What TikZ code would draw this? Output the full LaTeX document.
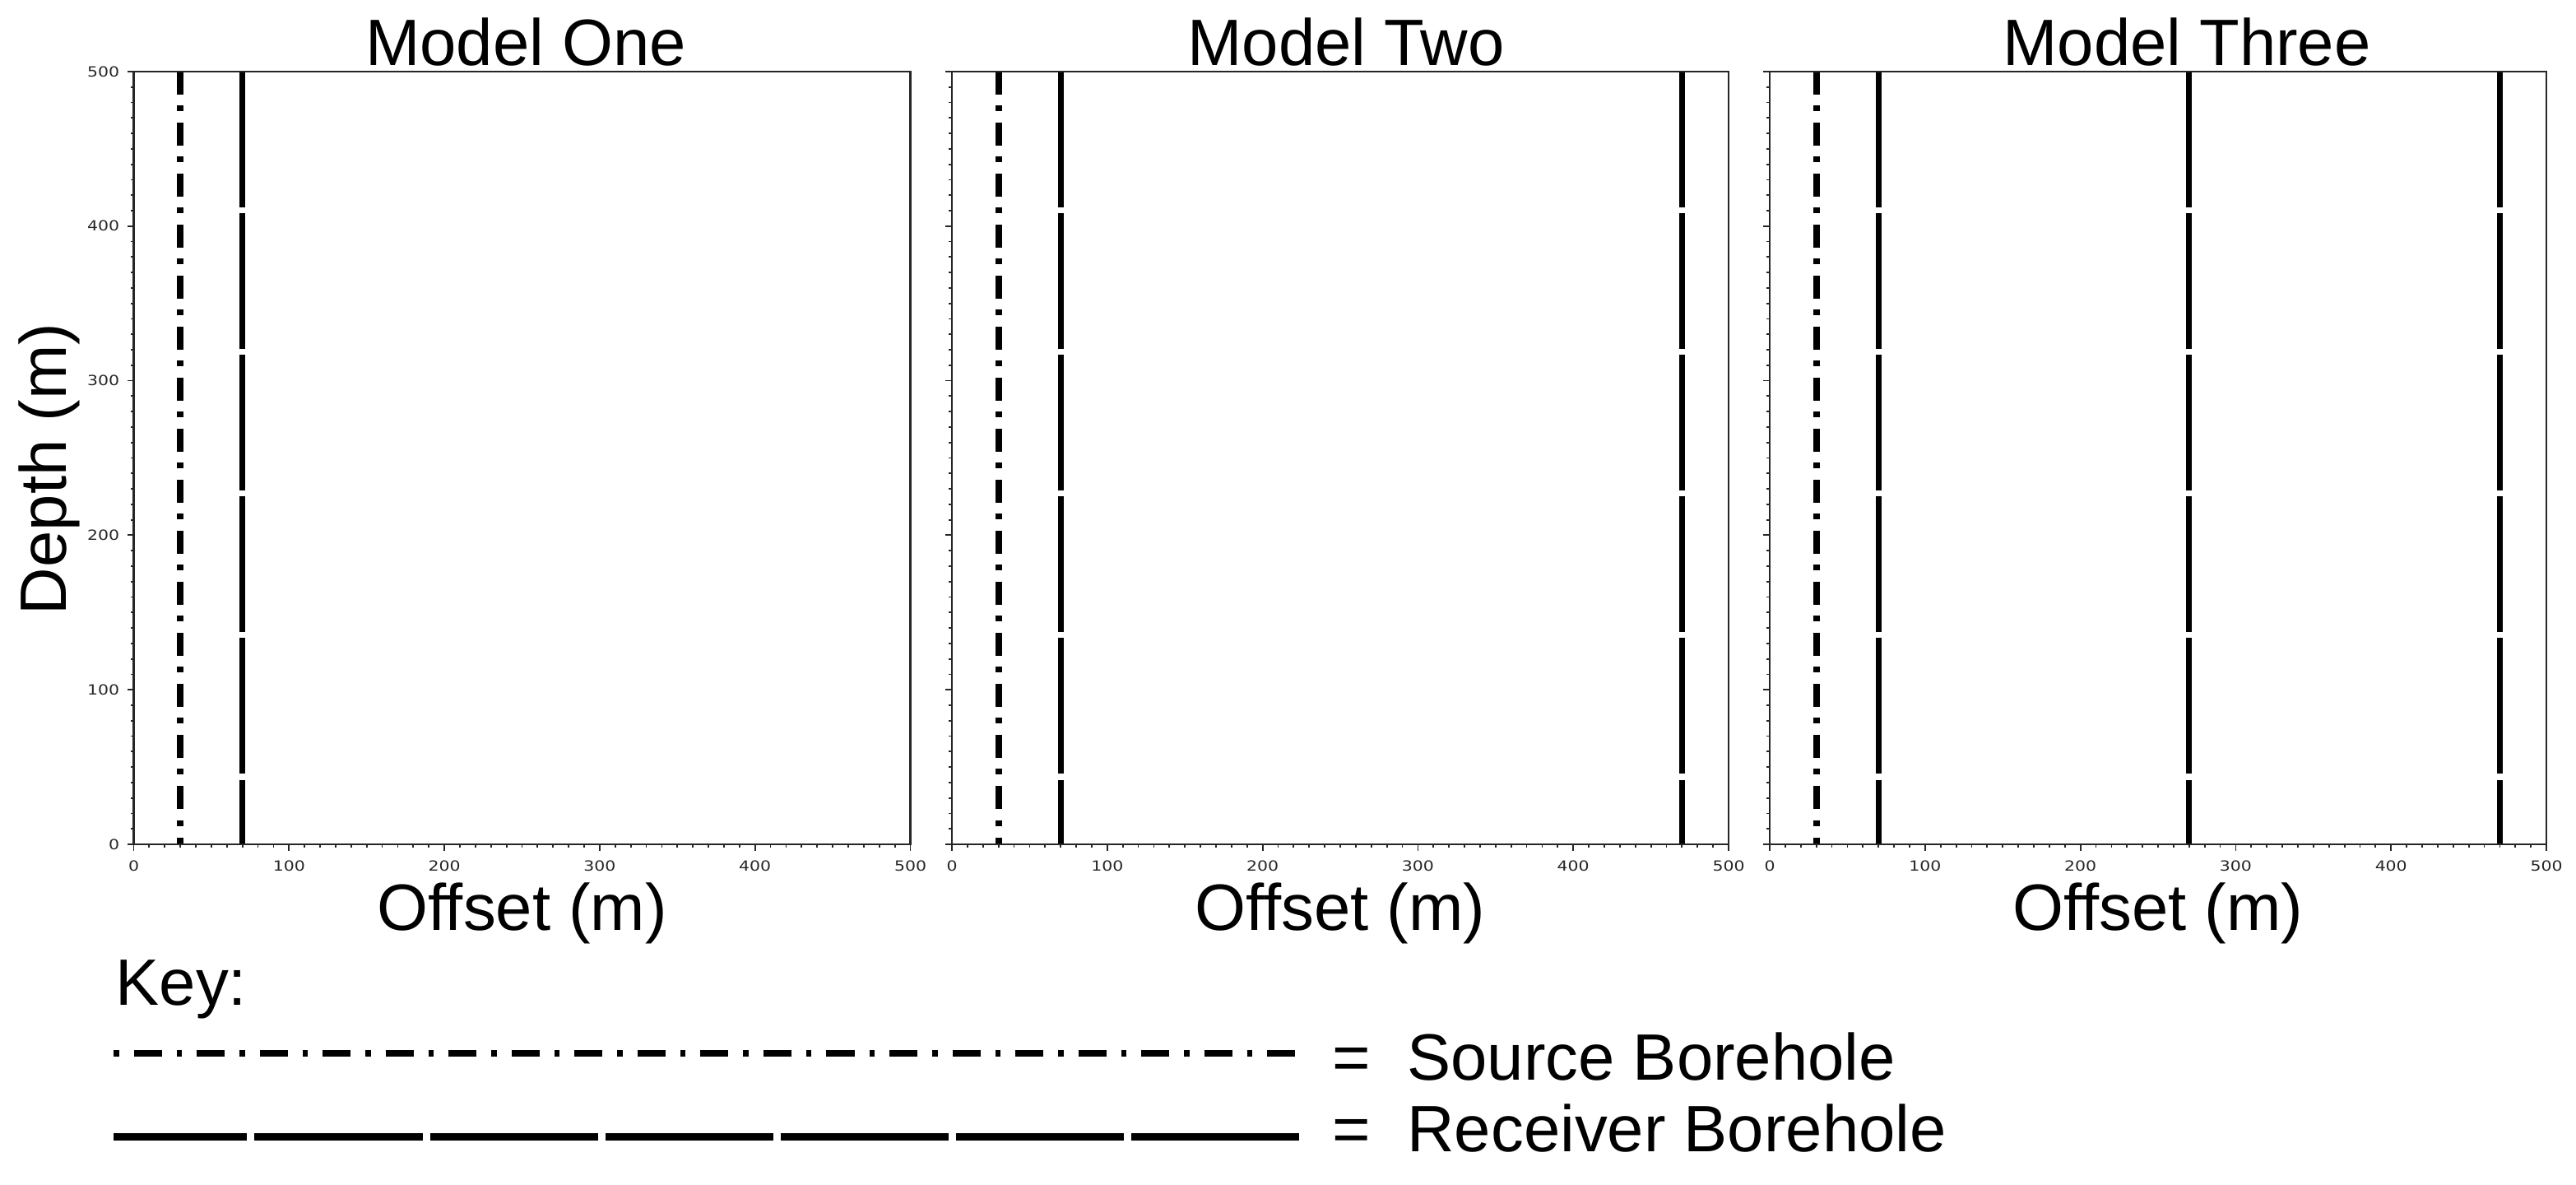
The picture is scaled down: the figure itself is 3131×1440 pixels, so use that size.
\documentclass[tikz,border=0pt]{standalone}
\usepackage{fontspec}
\setmainfont{Liberation Sans}
\newfontfamily\tickfont{DejaVu Sans}
\begin{document}
\begin{tikzpicture}[x=0.01cm,y=-0.01cm,
  bigtext/.style={inner sep=0pt,font=\fontsize{22.65}{27}\selectfont},
  ticklab/.style={inner sep=0pt,xscale=1.2,font=\tickfont\fontsize{4.84}{6}\selectfont,text=black!85},
  axframe/.style={draw=black!85,line width=0.022cm},
  tickmark/.style={draw=black!85,line width=0.018cm},
  srcline/.style={line width=0.078cm,dash pattern=on 0.275cm off 0.135cm on 0.07cm off 0.14cm},
  recline/.style={line width=0.072cm,dash pattern=on 1.645cm off 0.075cm},
  keysrc/.style={line width=0.085cm,dash pattern=on 0.065cm off 0.18cm on 0.34cm off 0.18cm},
  keyrec/.style={line width=0.085cm,dash pattern=on 2.04cm off 0.09cm,dash phase=0.42cm}]
\useasboundingbox (0,0) rectangle (3131,1440);
\fill[white] (0,0) rectangle (3131,1440);
% panels
\foreach \nm/\xo/\tx/\ttl in {one/162.5/639/Model One, two/1157/1636/Model Two, three/2151/2658/Model Three}{
  % minor and major ticks
  \foreach \v in {0,10,...,500}{
    \draw[tickmark] ({\xo+\v*1.888},1026) -- ++(0,4);
    \draw[tickmark] (\xo,{1026-\v*1.878}) -- ++(-4,0);
  }
  \foreach \v in {0,100,...,500}{
    \draw[tickmark] ({\xo+\v*1.888},1026) -- ++(0,8);
    \draw[tickmark] (\xo,{1026-\v*1.878}) -- ++(-8,0);
    \node[ticklab,anchor=north] (xl-\nm-\v) at ({\xo+\v*1.888},1045) {\v};
  }
  % boreholes
  \draw[srcline] ({\xo+30*1.888},87) -- ({\xo+30*1.888},1026);
  \node[bigtext,anchor=base] (title-\nm) at (\tx,80) {\ttl};
  \node[bigtext,anchor=base] (xlab-\nm) at ({\xo+472},1130) {Offset (m)};
}
% receiver boreholes
\foreach \xo/\r in {162.5/70, 1157/70, 1157/470, 2151/70, 2151/270, 2151/470}{
  \draw[recline] ({\xo+\r*1.888},87) -- ({\xo+\r*1.888},1026);
}
% frames
\draw[axframe] (162.5,87) rectangle (1106.5,1026);
\draw[axframe] (1157,87) rectangle (2101,1026);
\draw[axframe] (2151,87) rectangle (3095,1026);
% y tick labels (first panel)
\foreach \v in {0,100,...,500}{
  \node[ticklab,anchor=east] (yl-\v) at (146,{1026-\v*1.878}) {\v};
}
\node[bigtext,anchor=base,rotate=90] (ylab) at (80,570) {Depth (m)};
% key
\node[bigtext,anchor=base west] (key) at (140,1221) {Key:};
\coordinate (ks1) at (138,1280);
\coordinate (ks2) at (1574,1280);
\coordinate (kr1) at (138.3,1381.5);
\coordinate (kr2) at (1578.5,1381.5);
\draw[keysrc] (ks1) -- (ks2);
\draw[keyrec] (kr1) -- (kr2);
\node[bigtext,anchor=base west] (srclab) at (1619,1312) {=\ \ Source Borehole};
\node[bigtext,anchor=base west] (reclab) at (1619,1399) {=\ \ Receiver Borehole};
\end{tikzpicture}
\end{document}
